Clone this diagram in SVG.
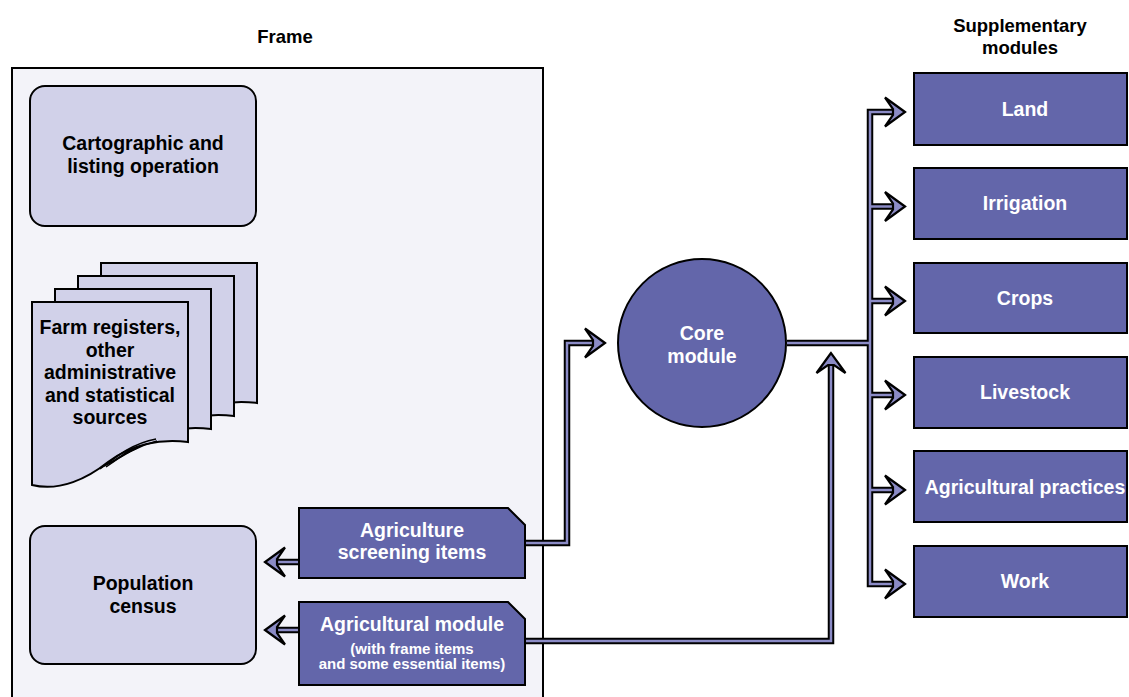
<svg xmlns="http://www.w3.org/2000/svg" width="1129" height="697" viewBox="0 0 1129 697">
<style>
  .t { font-family: "Liberation Sans", Arial, sans-serif; font-weight: bold; font-size: 19.5px; text-anchor: middle; fill: #000; }
  .w { fill: #fff; }
  .s { font-size: 15px; }
  .light { fill: #d1d1e9; stroke: #000; stroke-width: 2; }
  .dark { fill: #6366aa; stroke: #000; stroke-width: 2; }
  .page { fill: #d1d1e9; stroke: #000; stroke-width: 2; stroke-linejoin: miter; }
  .cb { fill: none; stroke: #000; stroke-width: 6.5; stroke-linejoin: miter; }
  .cp { fill: none; stroke: #8b8bc6; stroke-width: 2.5; stroke-linejoin: miter; }
  .ah { fill: #8b8bc6; stroke: #000; stroke-width: 2.2; stroke-linejoin: miter; }
</style>
<defs>
  <polygon id="head" points="0,0 -20,-14.5 -12,-3 -12,3 -20,14.5"/>
</defs>
<rect width="1129" height="697" fill="#fff"/>

<text class="t" x="285" y="43" style="font-size:18.5px">Frame</text>
<g id="title-supp">
  <text class="t" x="1020" y="32" style="font-size:18.5px">Supplementary</text>
  <text class="t" x="1020" y="54" style="font-size:18.5px">modules</text>
</g>

<g id="frame">
  <rect x="12" y="68" width="531" height="650" fill="#f3f3f9" stroke="#000" stroke-width="2"/>
</g>

<g id="cartographic">
  <rect class="light" x="30" y="86" width="226" height="140" rx="15"/>
  <text class="t" x="143" y="150">Cartographic and</text>
  <text class="t" x="143" y="173">listing operation</text>
</g>

<g id="farm-registers">
  <path class="page" transform="translate(69,-39)" d="M32,302 H188 V442 C160,438 130,445 108,462 C88,478 60,492 32,485 Z"/>
  <path class="page" transform="translate(46,-26)" d="M32,302 H188 V442 C160,438 130,445 108,462 C88,478 60,492 32,485 Z"/>
  <path class="page" transform="translate(23,-13)" d="M32,302 H188 V442 C160,438 130,445 108,462 C88,478 60,492 32,485 Z"/>
  <path class="page" d="M32,302 H188 V442 C160,438 130,445 108,462 C88,478 60,492 32,485 Z"/>
  <path d="M100,469 C118,455 134,443 156,439 M106,467 C122,455 138,446 157,441" fill="none" stroke="#000" stroke-width="1.5"/>
  <text class="t" x="110" y="334">Farm registers,</text>
  <text class="t" x="110" y="357">other</text>
  <text class="t" x="110" y="379">administrative</text>
  <text class="t" x="110" y="402">and statistical</text>
  <text class="t" x="110" y="424">sources</text>
</g>

<g id="population-census">
  <rect class="light" x="30" y="526" width="226" height="138" rx="15"/>
  <text class="t" x="143" y="590">Population</text>
  <text class="t" x="143" y="613">census</text>
</g>

<g id="connectors">
  <path class="cb" d="M299,562 H277"/>
  <path class="cb" d="M299,630 H277"/>
  <path class="cb" d="M525,543 H567 V343 H593"/>
  <path class="cb" d="M525,641 H831 V365"/>
  <path class="cb" d="M787,343 H870"/>
  <path class="cb" d="M893,112 H870 V584 H893 M870,206.5 H893 M870,301 H893 M870,395 H893 M870,490 H893"/>
  <path class="cp" d="M299,562 H277"/>
  <path class="cp" d="M299,630 H277"/>
  <path class="cp" d="M525,543 H567 V343 H593"/>
  <path class="cp" d="M525,641 H831 V365"/>
  <path class="cp" d="M787,343 H870"/>
  <path class="cp" d="M893,112 H870 V584 H893 M870,206.5 H893 M870,301 H893 M870,395 H893 M870,490 H893"/>
  <use href="#head" class="ah" transform="translate(265,562) rotate(180)"/>
  <use href="#head" class="ah" transform="translate(265,630) rotate(180)"/>
  <use href="#head" class="ah" transform="translate(605,343)"/>
  <use href="#head" class="ah" transform="translate(831,353) rotate(-90)"/>
  <use href="#head" class="ah" transform="translate(905,112)"/>
  <use href="#head" class="ah" transform="translate(905,206.5)"/>
  <use href="#head" class="ah" transform="translate(905,301)"/>
  <use href="#head" class="ah" transform="translate(905,395)"/>
  <use href="#head" class="ah" transform="translate(905,490)"/>
  <use href="#head" class="ah" transform="translate(905,584)"/>
</g>

<g id="screening-items">
  <path class="dark" d="M299,508 H508 L525,525 V578 H299 Z"/>
  <text class="t w" x="412" y="537">Agriculture</text>
  <text class="t w" x="412" y="559">screening items</text>
</g>

<g id="agricultural-module">
  <path class="dark" d="M299,602 H508 L525,619 V685 H299 Z"/>
  <text class="t w" x="412" y="631">Agricultural module</text>
  <text class="t w s" x="412" y="654">(with frame items</text>
  <text class="t w s" x="412" y="669">and some essential items)</text>
</g>

<g id="core-module">
  <circle class="dark" cx="702" cy="343" r="84"/>
  <text class="t w" x="702" y="340">Core</text>
  <text class="t w" x="702" y="363">module</text>
</g>

<g id="land">
  <rect class="dark" x="914" y="73" width="213" height="72"/>
  <text class="t w" x="1025" y="116">Land</text>
</g>
<g id="irrigation">
  <rect class="dark" x="914" y="168" width="213" height="71"/>
  <text class="t w" x="1025" y="210">Irrigation</text>
</g>
<g id="crops">
  <rect class="dark" x="914" y="263" width="213" height="70"/>
  <text class="t w" x="1025" y="305">Crops</text>
</g>
<g id="livestock">
  <rect class="dark" x="914" y="357" width="213" height="71"/>
  <text class="t w" x="1025" y="399">Livestock</text>
</g>
<g id="agricultural-practices">
  <rect class="dark" x="914" y="451" width="213" height="71"/>
  <text class="t w" x="1025" y="494">Agricultural practices</text>
</g>
<g id="work">
  <rect class="dark" x="914" y="546" width="213" height="71"/>
  <text class="t w" x="1025" y="588">Work</text>
</g>
</svg>
